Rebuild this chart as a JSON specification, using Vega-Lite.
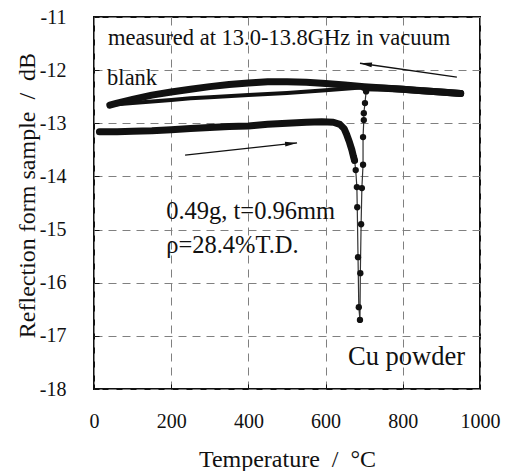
{
  "$schema": "https://vega.github.io/schema/vega-lite/v6.json",
  "width": 386,
  "height": 372,
  "autosize": "none",
  "padding": {"left": 94, "top": 17, "right": 28, "bottom": 82},
  "background": "white",
  "config": {
    "view": {"stroke": "#111", "strokeWidth": 2},
    "font": "Liberation Serif, Times New Roman, serif",
    "axis": {
      "grid": true,
      "gridDash": [8, 6],
      "gridColor": "#808080",
      "gridWidth": 1,
      "ticks": true,
      "tickSize": -5,
      "tickColor": "#111",
      "tickWidth": 1,
      "domain": false,
      "labelFont": "Liberation Serif, Times New Roman, serif",
      "labelFontSize": 20,
      "labelColor": "#111",
      "titleFont": "Liberation Serif, Times New Roman, serif",
      "titleFontWeight": "normal",
      "titleColor": "#111"
    }
  },
  "datasets": {
    "main": [
      {"seg": "heat", "i": 1, "T": 14, "dB": -13.16},
      {"seg": "heat", "i": 2, "T": 60, "dB": -13.16},
      {"seg": "heat", "i": 3, "T": 100, "dB": -13.15},
      {"seg": "heat", "i": 4, "T": 150, "dB": -13.14},
      {"seg": "heat", "i": 5, "T": 200, "dB": -13.12},
      {"seg": "heat", "i": 6, "T": 250, "dB": -13.1},
      {"seg": "heat", "i": 7, "T": 300, "dB": -13.08},
      {"seg": "heat", "i": 8, "T": 350, "dB": -13.06},
      {"seg": "heat", "i": 9, "T": 400, "dB": -13.05},
      {"seg": "heat", "i": 10, "T": 450, "dB": -13.02},
      {"seg": "heat", "i": 11, "T": 500, "dB": -13.0},
      {"seg": "heat", "i": 12, "T": 550, "dB": -12.98},
      {"seg": "heat", "i": 13, "T": 590, "dB": -12.97},
      {"seg": "heat", "i": 14, "T": 620, "dB": -12.98},
      {"seg": "heat", "i": 15, "T": 637, "dB": -13.02},
      {"seg": "heat", "i": 16, "T": 648, "dB": -13.1},
      {"seg": "heat", "i": 17, "T": 655, "dB": -13.22},
      {"seg": "heat", "i": 18, "T": 662, "dB": -13.36},
      {"seg": "heat", "i": 19, "T": 668, "dB": -13.5},
      {"seg": "heat", "i": 20, "T": 672, "dB": -13.62},
      {"seg": "heat", "i": 21, "T": 675, "dB": -13.7},
      {"seg": "dip", "i": 22, "T": 675, "dB": -13.7},
      {"seg": "dip", "i": 23, "T": 678, "dB": -13.88},
      {"seg": "dip", "i": 24, "T": 681, "dB": -14.2},
      {"seg": "dip", "i": 25, "T": 682, "dB": -14.58},
      {"seg": "dip", "i": 26, "T": 684, "dB": -15.52},
      {"seg": "dip", "i": 27, "T": 686, "dB": -16.46},
      {"seg": "dip", "i": 28, "T": 689, "dB": -16.7},
      {"seg": "dip", "i": 29, "T": 690, "dB": -15.82},
      {"seg": "dip", "i": 30, "T": 692, "dB": -14.9},
      {"seg": "dip", "i": 31, "T": 694, "dB": -14.22},
      {"seg": "dip", "i": 32, "T": 697, "dB": -13.78},
      {"seg": "dip", "i": 33, "T": 697, "dB": -13.26},
      {"seg": "dip", "i": 34, "T": 699, "dB": -12.94},
      {"seg": "dip", "i": 35, "T": 699, "dB": -12.81},
      {"seg": "dip", "i": 36, "T": 702, "dB": -12.62},
      {"seg": "dip", "i": 37, "T": 705, "dB": -12.4},
      {"seg": "hot", "i": 38, "T": 700, "dB": -12.33},
      {"seg": "hot", "i": 39, "T": 750, "dB": -12.34},
      {"seg": "hot", "i": 40, "T": 800, "dB": -12.36},
      {"seg": "hot", "i": 41, "T": 850, "dB": -12.39},
      {"seg": "hot", "i": 42, "T": 900, "dB": -12.41},
      {"seg": "hot", "i": 43, "T": 950, "dB": -12.44},
      {"seg": "cool", "i": 44, "T": 950, "dB": -12.44},
      {"seg": "cool", "i": 45, "T": 800, "dB": -12.36},
      {"seg": "cool", "i": 46, "T": 700, "dB": -12.31},
      {"seg": "cool", "i": 47, "T": 650, "dB": -12.28},
      {"seg": "cool", "i": 48, "T": 600, "dB": -12.25},
      {"seg": "cool", "i": 49, "T": 550, "dB": -12.23},
      {"seg": "cool", "i": 50, "T": 500, "dB": -12.22},
      {"seg": "cool", "i": 51, "T": 450, "dB": -12.22},
      {"seg": "cool", "i": 52, "T": 400, "dB": -12.24},
      {"seg": "cool", "i": 53, "T": 350, "dB": -12.27},
      {"seg": "cool", "i": 54, "T": 300, "dB": -12.31},
      {"seg": "cool", "i": 55, "T": 250, "dB": -12.36},
      {"seg": "cool", "i": 56, "T": 200, "dB": -12.41},
      {"seg": "cool", "i": 57, "T": 150, "dB": -12.47},
      {"seg": "cool", "i": 58, "T": 100, "dB": -12.55},
      {"seg": "cool", "i": 59, "T": 60, "dB": -12.62},
      {"seg": "cool", "i": 60, "T": 41, "dB": -12.66},
      {"seg": "lower", "i": 61, "T": 41, "dB": -12.66},
      {"seg": "lower", "i": 62, "T": 60, "dB": -12.64},
      {"seg": "lower", "i": 63, "T": 100, "dB": -12.62},
      {"seg": "lower", "i": 64, "T": 150, "dB": -12.59},
      {"seg": "lower", "i": 65, "T": 200, "dB": -12.56},
      {"seg": "lower", "i": 66, "T": 250, "dB": -12.53},
      {"seg": "lower", "i": 67, "T": 300, "dB": -12.51},
      {"seg": "lower", "i": 68, "T": 400, "dB": -12.47},
      {"seg": "lower", "i": 69, "T": 500, "dB": -12.43},
      {"seg": "lower", "i": 70, "T": 600, "dB": -12.38},
      {"seg": "lower", "i": 71, "T": 650, "dB": -12.35},
      {"seg": "lower", "i": 72, "T": 700, "dB": -12.32}
    ]
  },
  "encoding": {
    "x": {
      "field": "T",
      "type": "quantitative",
      "scale": {"domain": [0, 1000], "nice": false, "zero": false},
      "axis": {
        "values": [0, 200, 400, 600, 800, 1000],
        "labelExpr": "'' + datum.value",
        "labelPadding": 27,
        "labelFlush": false,
        "title": "Temperature\u00a0\u00a0/\u00a0\u00a0°C",
        "titleFontSize": 24,
        "titleY": 77,
        "titleBaseline": "alphabetic"
      }
    },
    "y": {
      "field": "dB",
      "type": "quantitative",
      "scale": {"domain": [-18, -11], "nice": false, "zero": false},
      "axis": {
        "values": [-18, -17, -16, -15, -14, -13, -12, -11],
        "labelExpr": "'' + datum.value",
        "labelPadding": 33,
        "labelFlush": false,
        "title": "Reflection form sample\u00a0\u00a0/\u00a0\u00a0dB",
        "titleFontSize": 24,
        "titleX": -60,
        "titleY": 178,
        "titleBaseline": "alphabetic"
      }
    }
  },
  "layer": [
    {
      "data": {"name": "main"},
      "transform": [{"filter": "datum.seg == 'heat' || datum.seg == 'hot' || datum.seg == 'cool'"}],
      "mark": {"type": "line", "color": "#111", "strokeWidth": 7, "strokeCap": "round", "strokeJoin": "round"},
      "encoding": {
        "detail": {"field": "seg"},
        "order": {"field": "i", "type": "quantitative"}
      }
    },
    {
      "data": {"name": "main"},
      "transform": [{"filter": "datum.seg == 'lower'"}],
      "mark": {"type": "line", "color": "#111", "strokeWidth": 4, "strokeCap": "round", "strokeJoin": "round"},
      "encoding": {
        "order": {"field": "i", "type": "quantitative"}
      }
    },
    {
      "data": {"name": "main"},
      "transform": [{"filter": "datum.seg == 'dip'"}],
      "mark": {"type": "line", "color": "#333", "strokeWidth": 1.2},
      "encoding": {
        "order": {"field": "i", "type": "quantitative"}
      }
    },
    {
      "data": {"name": "main"},
      "transform": [{"filter": "datum.seg == 'dip'"}],
      "mark": {"type": "point", "filled": true, "color": "#111", "size": 40, "opacity": 1}
    },
    {
      "data": {"values": [
        {"T": 940, "dB": -12.13, "T2": 689, "dB2": -11.87},
        {"T": 236, "dB": -13.6, "T2": 526, "dB2": -13.37}
      ]},
      "mark": {"type": "rule", "color": "#111", "strokeWidth": 1.3},
      "encoding": {
        "x2": {"field": "T2"},
        "y2": {"field": "dB2"}
      }
    },
    {
      "data": {"values": [{"T": 689, "dB": -11.87}]},
      "mark": {"type": "point", "shape": "M0,0L0.6,3L-0.6,3Z", "filled": true, "color": "#111", "size": 64, "angle": 278, "opacity": 1}
    },
    {
      "data": {"values": [{"T": 526, "dB": -13.37}]},
      "mark": {"type": "point", "shape": "M0,0L0.6,3L-0.6,3Z", "filled": true, "color": "#111", "size": 64, "angle": 84, "opacity": 1}
    },
    {
      "data": {"values": [
        {"label": "measured at 13.0-13.8GHz in vacuum", "T": 36, "dB": -11.53},
        {"label": "blank", "T": 34, "dB": -12.28}
      ]},
      "mark": {"type": "text", "align": "left", "baseline": "alphabetic", "fontSize": 22.5, "font": "Liberation Serif, Times New Roman, serif", "color": "#111"},
      "encoding": {"text": {"field": "label"}}
    },
    {
      "data": {"values": [
        {"label": "0.49g, t=0.96mm", "T": 187, "dB": -14.8},
        {"label": "ρ=28.4%T.D.", "T": 187, "dB": -15.44}
      ]},
      "mark": {"type": "text", "align": "left", "baseline": "alphabetic", "fontSize": 24.5, "font": "Liberation Serif, Times New Roman, serif", "color": "#111"},
      "encoding": {"text": {"field": "label"}}
    },
    {
      "data": {"values": [
        {"label": "Cu powder", "T": 658, "dB": -17.55}
      ]},
      "mark": {"type": "text", "align": "left", "baseline": "alphabetic", "fontSize": 26.5, "font": "Liberation Serif, Times New Roman, serif", "color": "#111"},
      "encoding": {"text": {"field": "label"}}
    }
  ]
}
